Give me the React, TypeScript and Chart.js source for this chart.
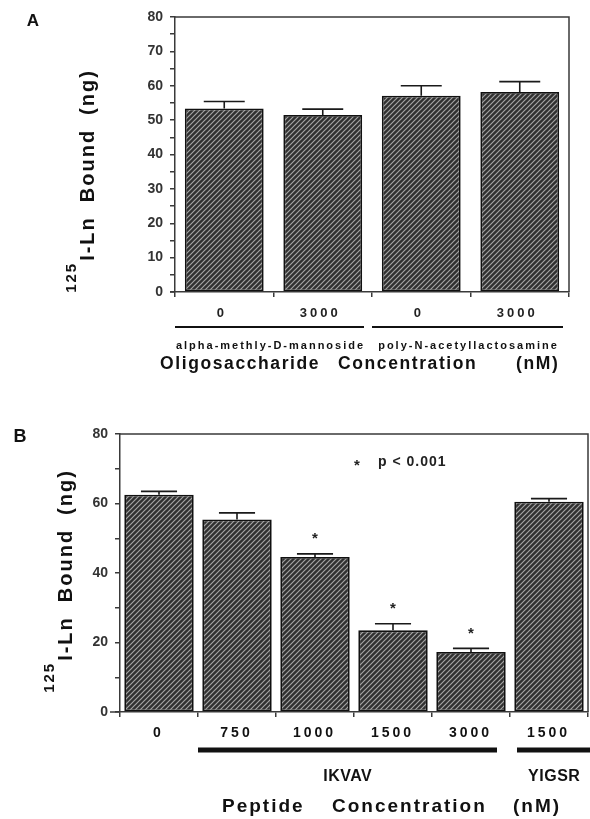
import React, { useEffect, useRef } from 'react';
import { Chart, registerables } from 'chart.js';

Chart.register(...registerables);

// ---------- Panel A data ----------
const A_CATEGORIES = ['0', '3000', '0', '3000'];
const A_VALUES = [53.4, 51.5, 57.1, 58.2];
const A_ERRORS = [2.0, 1.7, 2.9, 3.0];
const A_GROUPS = [
  { label: 'alpha-methly-D-mannoside', from: 0, to: 1 },
  { label: 'poly-N-acetyllactosamine', from: 2, to: 3 },
];
const A_AXIS_WORDS = ['Oligosaccharide', 'Concentration', '(nM)'];

// ---------- Panel B data ----------
const B_CATEGORIES = ['0', '750', '1000', '1500', '3000', '1500'];
const B_VALUES = [62.5, 55.4, 44.6, 23.5, 17.3, 60.5];
const B_ERRORS = [1.0, 1.9, 0.9, 1.9, 1.0, 0.9];
const B_SIGNIFICANT = [false, false, true, true, true, false];
const B_GROUPS = [
  { label: 'IKVAV', from: 1, to: 4 },
  { label: 'YIGSR', from: 5, to: 5 },
];
const B_AXIS_WORDS = ['Peptide', 'Concentration', '(nM)'];
const B_NOTE = 'p < 0.001';
const B_NOTE_VALUE = 72;

const Y_MAX = 80;
const FONT = '"Liberation Sans", Arial, Helvetica, sans-serif';

function makeHatch(ctx: CanvasRenderingContext2D): CanvasPattern | string {
  const s = 5;
  const c = document.createElement('canvas');
  c.width = s;
  c.height = s;
  const g = c.getContext('2d');
  if (!g) return '#555';
  g.fillStyle = '#303030';
  g.fillRect(0, 0, s, s);
  g.strokeStyle = '#a4a4a4';
  g.lineWidth = 1.2;
  g.beginPath();
  g.moveTo(-1, 1);
  g.lineTo(1, -1);
  g.moveTo(0, s);
  g.lineTo(s, 0);
  g.moveTo(s - 1, s + 1);
  g.lineTo(s + 1, s - 1);
  g.stroke();
  return ctx.createPattern(c, 'repeat') || '#555';
}

function text(
  ctx: CanvasRenderingContext2D,
  str: string,
  x: number,
  y: number,
  font: string,
  align: CanvasTextAlign = 'center',
  spacing = 0,
  color = '#111'
) {
  ctx.save();
  ctx.font = font;
  (ctx as any).letterSpacing = spacing + 'px';
  ctx.fillStyle = color;
  ctx.textBaseline = 'middle';
  let dx = 0;
  if (align === 'center' && spacing) dx = spacing / 2;
  ctx.textAlign = align;
  ctx.fillText(str, x + dx, y);
  ctx.restore();
}

function drawYTitle(
  ctx: CanvasRenderingContext2D,
  baselineX: number,
  centerY: number,
  mainSize: number,
  supSize: number
) {
  ctx.save();
  ctx.fillStyle = '#111';
  ctx.textBaseline = 'alphabetic';
  ctx.textAlign = 'left';
  const words = ['I-Ln', 'Bound', '(ng)'];
  const gap = 14;
  ctx.font = `bold ${supSize}px ${FONT}`;
  (ctx as any).letterSpacing = '2px';
  const wSup = ctx.measureText('125').width;
  ctx.font = `bold ${mainSize}px ${FONT}`;
  (ctx as any).letterSpacing = '2px';
  const ws = words.map((w) => ctx.measureText(w).width);
  const total = wSup + 1 + ws.reduce((a, b) => a + b, 0) + gap * (words.length - 1);
  ctx.translate(baselineX, centerY + total / 2);
  ctx.rotate(-Math.PI / 2);
  ctx.font = `bold ${supSize}px ${FONT}`;
  (ctx as any).letterSpacing = '2px';
  ctx.fillText('125', 0, -mainSize * 0.9);
  let x = wSup + 1;
  ctx.font = `bold ${mainSize}px ${FONT}`;
  (ctx as any).letterSpacing = '2px';
  words.forEach((w, i) => {
    ctx.fillText(w, x, 0);
    x += ws[i] + gap;
  });
  ctx.restore();
}

type PanelSpec = {
  categories: string[];
  values: number[];
  errors: number[];
  stepSize: number;
  labelEvery: number;
  width: number;
  height: number;
  area: { left: number; right: number; top: number; bottom: number };
  barPercentage: number;
  axisOverhang: number;
  decorate: (chart: any) => void;
};

function buildChart(canvas: HTMLCanvasElement, spec: PanelSpec) {
  const ctx = canvas.getContext('2d')!;
  const hatch = makeHatch(ctx);
  const a = spec.area;
  const errorPlugin = {
    id: 'errorBars',
    afterDatasetsDraw(chart: any) {
      const meta = chart.getDatasetMeta(0);
      const ys = chart.scales.y;
      const c = chart.ctx;
      c.save();
      c.strokeStyle = '#1a1a1a';
      c.lineWidth = 1.6;
      meta.data.forEach((el: any, i: number) => {
        const v = spec.values[i];
        const top = ys.getPixelForValue(v + spec.errors[i]);
        const half = el.width * 0.26;
        c.beginPath();
        c.moveTo(el.x, el.y);
        c.lineTo(el.x, top);
        c.moveTo(el.x - half, top);
        c.lineTo(el.x + half, top);
        c.stroke();
      });
      c.restore();
    },
  };
  const framePlugin = {
    id: 'frame',
    afterDraw(chart: any) {
      const c = chart.ctx;
      const ca = chart.chartArea;
      c.save();
      c.strokeStyle = '#3a3a3a';
      c.lineWidth = 1.5;
      c.beginPath();
      c.moveTo(ca.left, ca.top);
      c.lineTo(ca.right, ca.top);
      c.lineTo(ca.right, ca.bottom);
      c.moveTo(ca.left - spec.axisOverhang, ca.bottom);
      c.lineTo(ca.left, ca.bottom);
      c.stroke();
      c.restore();
      spec.decorate(chart);
    },
  };
  return new Chart(canvas, {
    type: 'bar',
    data: {
      labels: spec.categories,
      datasets: [
        {
          data: spec.values,
          backgroundColor: hatch as any,
          borderColor: '#111',
          borderWidth: 1.8,
          borderSkipped: false,
          categoryPercentage: 1,
          barPercentage: spec.barPercentage,
        },
      ],
    },
    options: {
      animation: false,
      responsive: false,
      devicePixelRatio: 1,
      events: [],
      layout: {
        padding: { left: 0, right: spec.width - a.right, top: a.top, bottom: 0 },
      },
      plugins: { legend: { display: false }, tooltip: { enabled: false } },
      scales: {
        x: {
          grid: {
            drawOnChartArea: false,
            drawTicks: true,
            tickLength: 5,
            color: '#3a3a3a',
            lineWidth: 1.5,
          },
          border: { display: true, color: '#3a3a3a', width: 1.5 },
          ticks: { color: 'rgba(0,0,0,0)', font: { size: 13 } },
          afterFit: (scale: any) => {
            scale.height = spec.height - a.bottom;
          },
        },
        y: {
          min: 0,
          max: Y_MAX,
          grid: {
            drawOnChartArea: false,
            drawTicks: true,
            tickLength: 5,
            color: '#3a3a3a',
            lineWidth: 1.5,
          },
          border: { display: true, color: '#3a3a3a', width: 1.5 },
          ticks: {
            stepSize: spec.stepSize,
            autoSkip: false,
            padding: 7,
            color: '#333',
            font: { family: FONT, size: 14, weight: 'bold' },
            callback: (v: any) => (Number(v) % spec.labelEvery === 0 ? String(v) : ''),
          },
          afterFit: (scale: any) => {
            scale.width = a.left;
          },
        },
      },
    },
    plugins: [errorPlugin, framePlugin],
  } as any);
}

function groupLines(
  chart: any,
  groups: { label: string; from: number; to: number }[],
  y: number,
  lw: number,
  insets: [number, number][]
) {
  const c = chart.ctx;
  const xs = chart.scales.x;
  const half = (xs.getPixelForValue(1) - xs.getPixelForValue(0)) / 2;
  const spans = groups.map((g, i) => {
    const x0 = xs.getPixelForValue(g.from) - half + insets[i][0];
    const x1 = xs.getPixelForValue(g.to) + half - insets[i][1];
    return [x0, x1];
  });
  c.save();
  c.strokeStyle = '#111';
  c.lineWidth = lw;
  spans.forEach(([x0, x1]) => {
    c.beginPath();
    c.moveTo(x0, y);
    c.lineTo(x1, y);
    c.stroke();
  });
  c.restore();
  return spans;
}

function decorateA(chart: any) {
  const c = chart.ctx as CanvasRenderingContext2D;
  const xs = chart.scales.x;
  text(c, 'A', 33, 21, `bold 17px ${FONT}`);
  drawYTitle(c, 94, 181, 20, 15);
  A_CATEGORIES.forEach((lab, i) => {
    text(c, lab, xs.getPixelForValue(i) - 4, 313, `bold 13px ${FONT}`, 'center', 3, '#222');
  });
  const spans = groupLines(chart, A_GROUPS, 327, 2.2, [
    [0, 8],
    [0, 6],
  ]);
  A_GROUPS.forEach((g, i) => {
    const cx = (spans[i][0] + spans[i][1]) / 2;
    text(c, g.label, cx, 346, `bold 11px ${FONT}`, 'center', 2, '#111');
  });
  const wordX = [160, 338, 516];
  A_AXIS_WORDS.forEach((w, i) => {
    text(c, w, wordX[i], 364, `bold 17.5px ${FONT}`, 'left', 1.6, '#111');
  });
}

function decorateB(chart: any) {
  const c = chart.ctx as CanvasRenderingContext2D;
  const xs = chart.scales.x;
  const ys = chart.scales.y;
  text(c, 'B', 20, 52, `bold 18px ${FONT}`);
  drawYTitle(c, 72, 196, 20, 15);
  B_CATEGORIES.forEach((lab, i) => {
    text(c, lab, xs.getPixelForValue(i) - 2, 348, `bold 14px ${FONT}`, 'center', 3, '#111');
  });
  const spans = groupLines(chart, B_GROUPS, 365, 5, [
    [0, 13],
    [7, -3],
  ]);
  B_GROUPS.forEach((g, i) => {
    const cx = (spans[i][0] + spans[i][1]) / 2;
    text(c, g.label, cx, 392, `bold 16px ${FONT}`, 'center', 0.5, '#111');
  });
  const wordX = [222, 332, 513];
  B_AXIS_WORDS.forEach((w, i) => {
    text(c, w, wordX[i], 422, `bold 19px ${FONT}`, 'left', 2, '#111');
  });
  // significance stars
  const meta = chart.getDatasetMeta(0);
  B_SIGNIFICANT.forEach((sig, i) => {
    if (!sig) return;
    const el = meta.data[i];
    const y = ys.getPixelForValue(B_VALUES[i] + B_ERRORS[i]) - 19;
    text(c, '*', el.x, y + 4, `bold 15px ${FONT}`, 'center', 0, '#222');
  });
  const ny = ys.getPixelForValue(B_NOTE_VALUE);
  text(c, '*', 357, ny + 4, `bold 15px ${FONT}`, 'center', 0, '#222');
  text(c, B_NOTE, 378, ny, `bold 14px ${FONT}`, 'left', 1, '#222');
}

const SPEC_A: PanelSpec = {
  categories: A_CATEGORIES,
  values: A_VALUES,
  errors: A_ERRORS,
  stepSize: 5,
  labelEvery: 10,
  width: 590,
  height: 385,
  area: { left: 175, right: 569, top: 17, bottom: 292 },
  barPercentage: 0.8,
  axisOverhang: 5,
  decorate: decorateA,
};

const SPEC_B: PanelSpec = {
  categories: B_CATEGORIES,
  values: B_VALUES,
  errors: B_ERRORS,
  stepSize: 10,
  labelEvery: 20,
  width: 590,
  height: 434,
  area: { left: 120, right: 588, top: 49, bottom: 327 },
  barPercentage: 0.89,
  axisOverhang: 10,
  decorate: decorateB,
};

export default function App() {
  const refA = useRef<HTMLCanvasElement>(null);
  const refB = useRef<HTMLCanvasElement>(null);
  useEffect(() => {
    const ca = buildChart(refA.current!, SPEC_A);
    const cb = buildChart(refB.current!, SPEC_B);
    return () => {
      ca.destroy();
      cb.destroy();
    };
  }, []);
  return (
    <div style={{ position: 'absolute', left: 0, top: 0, width: 590, height: 819, background: '#fff' }}>
      <canvas
        ref={refA}
        width={590}
        height={385}
        style={{ position: 'absolute', left: 0, top: 0, width: 590, height: 385 }}
      />
      <canvas
        ref={refB}
        width={590}
        height={434}
        style={{ position: 'absolute', left: 0, top: 385, width: 590, height: 434 }}
      />
    </div>
  );
}
